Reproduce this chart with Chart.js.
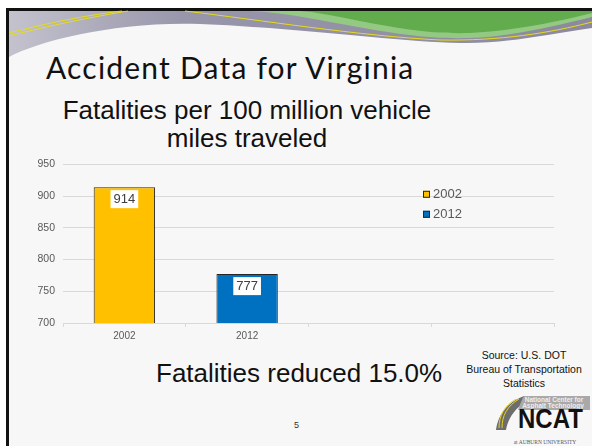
<!DOCTYPE html>
<html>
<head>
<meta charset="utf-8">
<script src="https://cdn.jsdelivr.net/npm/chart.js@4"></script>
<style>
  body { margin: 0; width: 592px; height: 446px; overflow: hidden; background: #fff; position: relative; font-family: "Liberation Sans", Arial, sans-serif; }
  .slide { position: absolute; left: 6px; top: 8px; width: 700px; height: 500px; border-left: 3px solid #111; border-top: 3px solid #111; background: #f7f7f7; }
  .txt { position: absolute; white-space: nowrap; color: #111; }
  #title { left: 46px; top: 52px; font-family: Lato, sans-serif; font-size: 30px; letter-spacing: 1.2px; line-height: 1; }
  #sub { left: 47px; top: 96px; width: 400px; text-align: center; font-size: 26px; line-height: 28px; }
  #reduced { left: 156px; top: 360px; font-size: 26px; line-height: 1; }
  #source { left: 464px; top: 348px; width: 120px; text-align: center; font-size: 10.5px; line-height: 14px; }
  #page { left: 294px; top: 421px; font-size: 9px; line-height: 1; color: #333; }
  #chartBox { position: absolute; left: 20px; top: 150px; }
</style>
</head>
<body>
<div class="slide"></div>

<!-- slide header swoosh -->
<svg style="position:absolute;left:0;top:0" width="592" height="70">
  <defs>
    <linearGradient id="grayband" x1="0" y1="0" x2="1" y2="0">
      <stop offset="0" stop-color="#c3c2cd"/>
      <stop offset="0.3" stop-color="#9896aa"/>
      <stop offset="1" stop-color="#8c899e"/>
    </linearGradient>
  </defs>
  <path d="M9,11 L592,11 L592,28 C540,36 500,44 460,43 C400,42 300,28 200,24 C120,21 40,40 9,57 Z" fill="url(#grayband)"/>
  <path d="M250,11 L592,11 L592,17 C555,26 515,36 470,38 C430,39 400,35 330,22 C300,16 275,12 250,11 Z" fill="#93c983"/>
  <path d="M300,11 L592,11 L592,13 C560,21 520,30 470,33 C430,34 400,29 350,19 C330,15 315,12 300,11 Z" fill="#62ac4e"/>
  <path d="M185,11 C260,20 360,36 440,40 C500,41 550,33 592,22" fill="none" stroke="#e6dc1e" stroke-width="1"/>
  <path d="M9,33 C40,25 80,16 122,11" fill="none" stroke="#e6dc1e" stroke-width="1"/>
  <path d="M9,36 C40,28 80,19 128,11" fill="none" stroke="#e6dc1e" stroke-width="1"/>
</svg>

<div class="txt" id="title">Accident Data for Virginia</div>
<div class="txt" id="sub">Fatalities per 100 million vehicle<br>miles traveled</div>

<div id="chartBox"><canvas id="myChart" width="570" height="195"></canvas></div>

<div class="txt" id="reduced">Fatalities reduced 15.0%</div>
<div class="txt" id="source">Source: U.S. DOT<br>Bureau of Transportation<br>Statistics</div>
<div class="txt" id="page">5</div>

<!-- NCAT logo -->
<svg style="position:absolute;left:494px;top:394px" width="98" height="52">
  <path d="M30,2 C14,8 4,20 2,36 L12,36 C14,24 22,12 36,6 Z" fill="#6d6d6d"/>
  <path d="M22,5 C10,12 5,22 5,34" fill="none" stroke="#e8d21a" stroke-width="1"/>
  <path d="M25,5 C13,12 8,22 8,34" fill="none" stroke="#e8d21a" stroke-width="1"/>
  <path d="M30,2 L96,2 L96,16 L24,16 C26,10 28,5 30,2 Z" fill="#a9a9a9"/>
  <text x="60" y="8" font-family="Liberation Sans" font-weight="bold" font-size="6.5" fill="#eee" text-anchor="middle">National Center for</text>
  <text x="59" y="14" font-family="Liberation Sans" font-weight="bold" font-size="6.5" fill="#eee" text-anchor="middle">Asphalt Technology</text>
  <text x="24" y="34" font-family="Liberation Sans" font-weight="bold" font-size="24" fill="#111" transform="translate(0,-6) scale(1,1.18)">NCAT</text>
  <text x="51" y="50" font-family="Liberation Serif" font-size="5.5" fill="#555" text-anchor="middle">at AUBURN UNIVERSITY</text>
</svg>

<script>
var categories = ['2002', '2012', '', ''];
var seriesNames = ['2002', '2012'];
var fatalities2002 = [914, null, null, null];
var fatalities2012 = [null, 777, null, null];
var seriesColors = ['#FFC000', '#0070C0'];
var yTicks = { min: 700, max: 950, step: 50 };

Chart.defaults.font.family = '"Liberation Sans", Arial, sans-serif';

// white boxes with the value inside the top of each bar
var valueLabels = {
  id: 'valueLabels',
  afterDatasetsDraw: function(chart) {
    var ctx = chart.ctx;
    ctx.save();
    ctx.font = '13px "Liberation Sans", Arial, sans-serif';
    ctx.textAlign = 'center';
    ctx.textBaseline = 'middle';
    chart.data.datasets.forEach(function(ds, i) {
      var meta = chart.getDatasetMeta(i);
      meta.data.forEach(function(bar, j) {
        var v = ds.data[j];
        if (v === null) return;
        var w = ctx.measureText(String(v)).width + 6;
        ctx.fillStyle = '#ffffff';
        ctx.fillRect(bar.x - w / 2, bar.y + 3, w, 18);
        ctx.fillStyle = '#404040';
        ctx.fillText(String(v), bar.x, bar.y + 12.5);
      });
    });
    ctx.restore();
  }
};

// legend sitting inside the plot on the right side
var sideLegend = {
  id: 'sideLegend',
  afterDraw: function(chart) {
    var ctx = chart.ctx;
    var x = chart.chartArea.left + 360;
    var y = chart.chartArea.top + 30;
    ctx.save();
    ctx.font = '13px "Liberation Sans", Arial, sans-serif';
    ctx.textBaseline = 'middle';
    chart.data.datasets.forEach(function(ds, i) {
      var cy = y + i * 20;
      ctx.fillStyle = ds.backgroundColor;
      ctx.fillRect(x, cy - 3.5, 7, 7);
      ctx.strokeStyle = '#262626';
      ctx.lineWidth = 1;
      ctx.strokeRect(x + 0.5, cy - 3, 6, 6);
      ctx.fillStyle = '#595959';
      ctx.fillText(ds.label, x + 10, cy + 0.5);
    });
    ctx.restore();
  }
};

var ctx = document.getElementById('myChart').getContext('2d');
var myChart = new Chart(ctx, {
  type: 'bar',
  data: {
    labels: categories,
    datasets: [
      { label: seriesNames[0], data: fatalities2002, backgroundColor: seriesColors[0], borderColor: '#262626', borderWidth: 1 },
      { label: seriesNames[1], data: fatalities2012, backgroundColor: seriesColors[1], borderColor: '#262626', borderWidth: 1 }
    ]
  },
  options: {
    responsive: false,
    animation: false,
    devicePixelRatio: 1,
    skipNull: true,
    categoryPercentage: 1,
    barPercentage: 0.5,
    layout: { padding: { top: 13, right: 36, left: 0, bottom: 0 } },
    plugins: { legend: { display: false }, tooltip: { enabled: false } },
    scales: {
      x: {
        grid: { drawOnChartArea: false, color: '#d9d9d9', tickLength: 4 },
        border: { color: '#d9d9d9' },
        ticks: { color: '#595959', font: { size: 10 }, padding: 3, autoSkip: false, maxRotation: 0 },
        afterFit: function(scale) { scale.height = 22; }
      },
      y: {
        min: yTicks.min,
        max: yTicks.max,
        grid: { color: '#d9d9d9', drawTicks: false },
        border: { display: false },
        ticks: { stepSize: yTicks.step, color: '#595959', font: { size: 10.5 }, padding: 8 },
        afterFit: function(scale) { scale.width = 43; }
      }
    }
  },
  plugins: [valueLabels, sideLegend]
});
</script>
</body>
</html>
